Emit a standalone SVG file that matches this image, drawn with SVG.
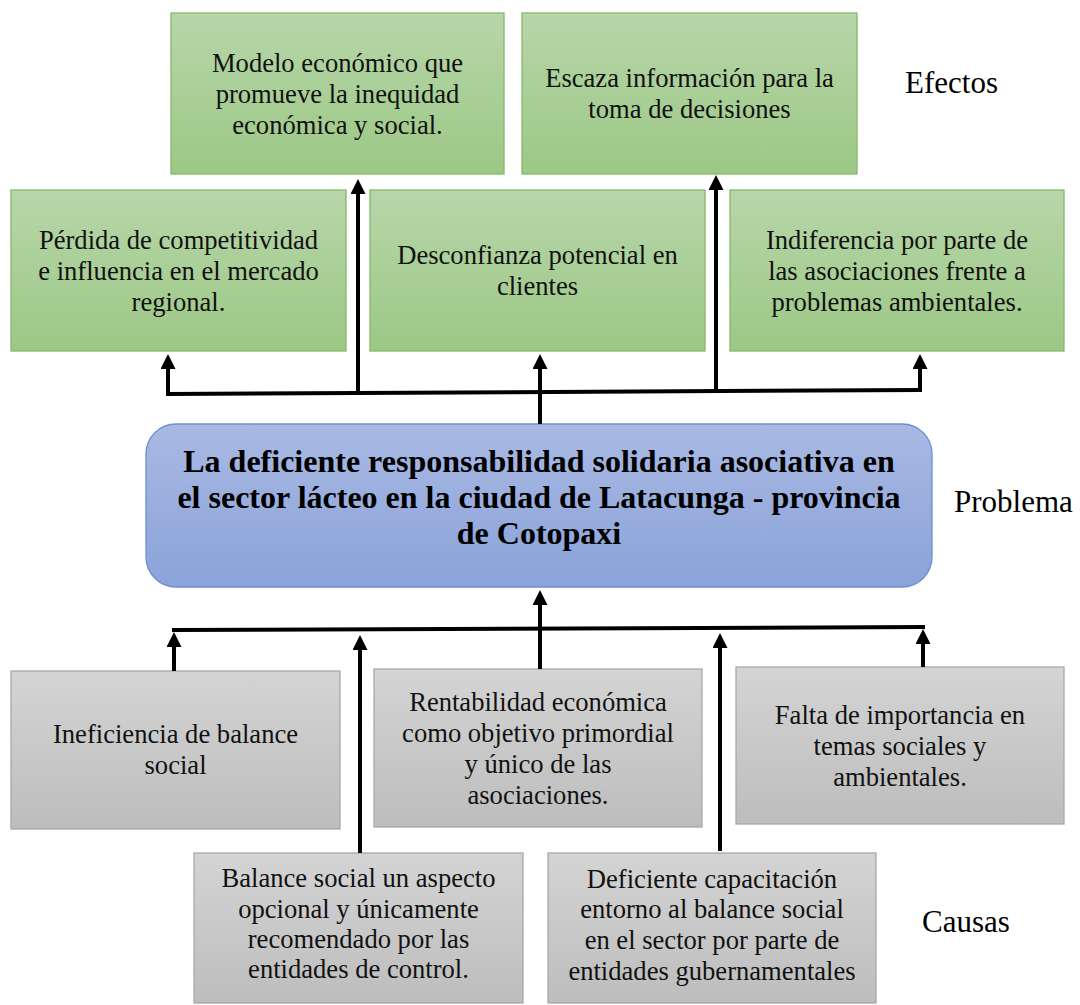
<svg xmlns="http://www.w3.org/2000/svg" width="1080" height="1005" viewBox="0 0 1080 1005">
<defs>
<linearGradient id="gGreen" x1="0" y1="0" x2="0" y2="1"><stop offset="0" stop-color="#b7d6a9"/><stop offset="1" stop-color="#9cc885"/></linearGradient>
<linearGradient id="gGray" x1="0" y1="0" x2="0" y2="1"><stop offset="0" stop-color="#d4d4d4"/><stop offset="1" stop-color="#bdbdbd"/></linearGradient>
<linearGradient id="gBlue" x1="0" y1="0" x2="0" y2="1"><stop offset="0" stop-color="#a9b9e3"/><stop offset="1" stop-color="#8aa3d9"/></linearGradient>
<marker id="ah" viewBox="0 0 16 16" refX="1" refY="8" markerWidth="16" markerHeight="15" orient="auto" markerUnits="userSpaceOnUse"><path d="M0,0 L16,8 L0,16 z" fill="#000"/></marker>
<style>
.green{fill:url(#gGreen);stroke:#86b96c;stroke-width:1.3}
.gray{fill:url(#gGray);stroke:#a8a8a8;stroke-width:1.3}
.blue{fill:url(#gBlue);stroke:#6d8fd3;stroke-width:1.3}
text{font-family:"Liberation Serif","Times New Roman",serif;fill:#111}
.t{font-size:26.6px;text-anchor:middle}
.h{font-size:32px;font-weight:bold;text-anchor:middle;fill:#000}
.lab{font-size:31px;fill:#000}
.c{fill:none;stroke:#000;stroke-width:4}
.a{fill:none;stroke:#000;stroke-width:4;marker-end:url(#ah)}
</style>
</defs>
<rect width="1080" height="1005" fill="#fff"/>

<g id="e-modelo"><rect class="green" x="171" y="13" width="333" height="161"/>
<text class="t" x="337.5" y="72">Modelo económico que</text><text class="t" x="337.5" y="103">promueve la inequidad</text><text class="t" x="337.5" y="134">económica y social.</text></g>
<g id="e-escaza"><rect class="green" x="522" y="13" width="335" height="161"/>
<text class="t" x="689.5" y="87">Escaza información para la</text><text class="t" x="689.5" y="118">toma de decisiones</text></g>
<g id="e-perdida"><rect class="green" x="11" y="190" width="335" height="161"/>
<text class="t" x="178.5" y="249">Pérdida de competitividad</text><text class="t" x="178.5" y="280">e influencia en el mercado</text><text class="t" x="178.5" y="311">regional.</text></g>
<g id="e-desconfianza"><rect class="green" x="370" y="190" width="335" height="161"/>
<text class="t" x="537.5" y="264">Desconfianza potencial en</text><text class="t" x="537.5" y="295">clientes</text></g>
<g id="e-indiferencia"><rect class="green" x="730" y="190" width="334" height="161"/>
<text class="t" x="897" y="249">Indiferencia por parte de</text><text class="t" x="897" y="280">las asociaciones frente a</text><text class="t" x="897" y="311">problemas ambientales.</text></g>

<g id="problema"><rect class="blue" x="146" y="424" width="786" height="163" rx="30" ry="30"/>
<text class="h" x="539" y="472">La deficiente responsabilidad solidaria asociativa en</text>
<text class="h" x="539" y="508">el sector lácteo en la ciudad de Latacunga - provincia</text>
<text class="h" x="539" y="544">de Cotopaxi</text></g>

<g id="c-ineficiencia"><rect class="gray" x="11" y="671" width="329" height="158"/>
<text class="t" x="175.5" y="743">Ineficiencia de balance</text><text class="t" x="175.5" y="774">social</text></g>
<g id="c-rentabilidad"><rect class="gray" x="374" y="669" width="328" height="158"/>
<text class="t" x="538" y="711">Rentabilidad económica</text><text class="t" x="538" y="742">como objetivo primordial</text><text class="t" x="538" y="773">y único de las</text><text class="t" x="538" y="804">asociaciones.</text></g>
<g id="c-falta"><rect class="gray" x="736" y="667" width="328" height="157"/>
<text class="t" x="900" y="724">Falta de importancia en</text><text class="t" x="900" y="755">temas sociales y</text><text class="t" x="900" y="786">ambientales.</text></g>
<g id="c-balance"><rect class="gray" x="194" y="853" width="329" height="150"/>
<text class="t" x="358.5" y="887">Balance social un aspecto</text><text class="t" x="358.5" y="918">opcional y únicamente</text><text class="t" x="358.5" y="948">recomendado por las</text><text class="t" x="358.5" y="978">entidades de control.</text></g>
<g id="c-deficiente"><rect class="gray" x="548" y="853" width="328" height="150"/>
<text class="t" x="712" y="888">Deficiente capacitación</text><text class="t" x="712" y="918">entorno al balance social</text><text class="t" x="712" y="949">en el sector por parte de</text><text class="t" x="712" y="980">entidades gubernamentales</text></g>

<g id="labels">
<text class="lab" x="905" y="93">Efectos</text>
<text class="lab" x="954" y="512">Problema</text>
<text class="lab" x="922" y="932">Causas</text>
</g>

<g id="connectors">
<path class="c" d="M166,394 L922,390"/>
<path class="a" d="M168,396 L168,368"/>
<path class="a" d="M358,394 L358,193"/>
<path class="a" d="M716,392 L716,189"/>
<path class="a" d="M920,392 L920,368"/>
<path class="a" d="M540,424 L540,368"/>
<path class="c" d="M172,630 L925,627"/>
<path class="a" d="M174,671 L174,646"/>
<path class="a" d="M360,853 L360,649"/>
<path class="a" d="M540,669 L540,604"/>
<path class="a" d="M720,851 L720,647"/>
<path class="a" d="M923,667 L923,643"/>
</g>
</svg>
